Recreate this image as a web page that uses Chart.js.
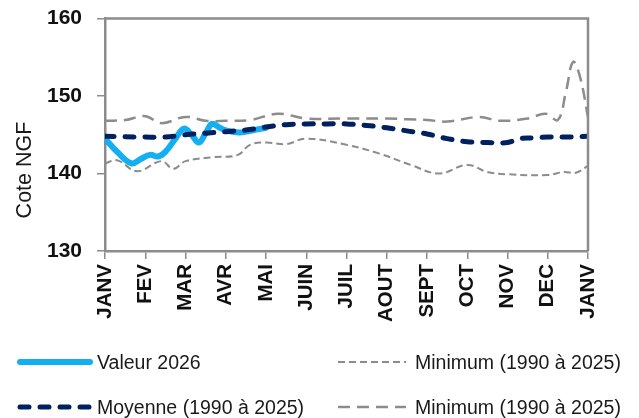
<!DOCTYPE html>
<html><head><meta charset="utf-8">
<script src="https://cdn.jsdelivr.net/npm/chart.js@4/dist/chart.umd.min.js"></script>
<style>
html,body{margin:0;padding:0;background:#fff;}
#wrap{position:relative;width:639px;height:418px;overflow:hidden;}
#c{position:absolute;left:0;top:0;}
.ytitle{position:absolute;left:24px;top:170px;transform:translate(-50%,-50%) rotate(-90deg);font:21.5px "Liberation Sans",Arial,sans-serif;color:#1a1a1a;white-space:nowrap;}
.lg{position:absolute;font:19.5px "Liberation Sans",Arial,sans-serif;color:#1a1a1a;white-space:nowrap;transform:translateY(-50%);}
svg.ls{position:absolute;overflow:visible;}
</style></head>
<body><div id="wrap"><canvas id="c" width="639" height="418"></canvas>
<div class="ytitle">Cote NGF</div>
<svg class="ls" style="left:0;top:0" width="639" height="418">
<line x1="20" y1="362" x2="90" y2="362" stroke="#13aff0" stroke-width="6" stroke-linecap="round"/>
<line x1="20" y1="407" x2="92" y2="407" stroke="#002060" stroke-width="5" stroke-linecap="round" stroke-dasharray="9 11"/>
<line x1="338" y1="362" x2="406" y2="362" stroke="#8c8c8c" stroke-width="2" stroke-dasharray="7 4"/>
<line x1="338" y1="407" x2="406" y2="407" stroke="#8c8c8c" stroke-width="2.5" stroke-dasharray="12 7"/>
</svg>
<div class="lg" style="left:97px;top:362px">Valeur 2026</div>
<div class="lg" style="left:97px;top:407px">Moyenne (1990 à 2025)</div>
<div class="lg" style="left:415px;top:362px">Minimum (1990 à 2025)</div>
<div class="lg" style="left:415px;top:407px">Minimum (1990 à 2025)</div>
</div>
<script>
const monthLabels = ["JANV","FEV","MAR","AVR","MAI","JUIN","JUIL","AOUT","SEPT","OCT","NOV","DEC","JANV"];
const yTicks = [130, 140, 150, 160];

const valeurMonths = [0, 0.3, 0.66, 0.9, 1.12, 1.32, 1.5, 1.75, 1.96, 2.15, 2.33, 2.5, 2.66, 2.85, 3.05, 3.35, 3.7, 4.0];
const valeurLevels = [144.5, 142.8, 141.3, 141.9, 142.4, 142.2, 142.8, 144.5, 145.8, 145.0, 144.0, 145.2, 146.4, 145.9, 145.5, 145.3, 145.6, 145.9];

const moyenneMonths = [0, 1, 1.5, 2, 2.5, 3, 3.5, 4, 4.5, 5, 5.5, 6, 6.5, 7, 7.5, 8, 8.5, 9, 9.5, 10, 10.3, 10.6, 11, 11.5, 12];
const moyenneLevels = [144.8, 144.7, 144.7, 145.0, 145.2, 145.4, 145.6, 146.0, 146.3, 146.4, 146.4, 146.4, 146.2, 145.9, 145.5, 145.1, 144.5, 144.1, 144.0, 144.0, 144.5, 144.6, 144.7, 144.7, 144.8];

const minBasMonths = [0, 0.3, 0.8, 1.4, 1.7, 2.0, 2.7, 3.3, 3.6, 4.0, 4.5, 5.0, 6.0, 6.8, 7.6, 8.3, 9.0, 9.5, 10.0, 11.0, 11.4, 11.7, 12];
const minBasLevels = [141.3, 141.7, 140.3, 141.6, 140.6, 141.6, 142.1, 142.4, 143.7, 144.0, 143.8, 144.5, 143.7, 142.6, 141.1, 140.0, 141.1, 140.2, 139.9, 139.8, 140.2, 140.1, 141.0];

const minHautMonths = [0, 0.5, 1.0, 1.4, 2.0, 2.5, 3.0, 3.6, 4.3, 5.0, 6.0, 7.0, 7.5, 8.0, 8.5, 9.3, 9.8, 10.5, 10.95, 11.25, 11.45, 11.63, 11.8, 12];
const minHautLevels = [146.8, 146.9, 147.4, 146.5, 147.3, 146.8, 146.8, 146.9, 147.7, 147.1, 147.1, 147.1, 147.0, 146.9, 146.7, 147.3, 146.8, 147.1, 147.7, 146.9, 150.5, 154.4, 152.5, 147.3];

const pts = (xs, ys) => xs.map((x, i) => ({x: x, y: ys[i]}));

const frame = {
  id: 'frame',
  afterDatasetsDraw(chart) {
    const {ctx, chartArea: a} = chart;
    ctx.save();
    ctx.strokeStyle = '#8c8c8c';
    ctx.lineWidth = 2.5;
    ctx.beginPath();
    ctx.moveTo(a.left, a.top);
    ctx.lineTo(a.right, a.top);
    ctx.lineTo(a.right, a.bottom);
    ctx.stroke();
    ctx.restore();
  }
};

new Chart(document.getElementById('c'), {
  type: 'line',
  data: {
    datasets: [
      {label: 'Moyenne (1990 à 2025)', data: pts(moyenneMonths, moyenneLevels), borderColor: '#002060', borderWidth: 5, borderDash: [9, 11], borderCapStyle: 'round', order: 0},
      {label: 'Valeur 2026', data: pts(valeurMonths, valeurLevels), borderColor: '#13aff0', borderWidth: 6, borderCapStyle: 'round', order: 1},
      {label: 'Minimum (1990 à 2025)', data: pts(minBasMonths, minBasLevels), borderColor: '#8c8c8c', borderWidth: 2, borderDash: [7, 4], order: 2},
      {label: 'Minimum (1990 à 2025)', data: pts(minHautMonths, minHautLevels), borderColor: '#8c8c8c', borderWidth: 2.5, borderDash: [12, 7], order: 3}
    ]
  },
  options: {
    responsive: false,
    animation: false,
    elements: {point: {radius: 0}, line: {tension: 0.4, fill: false}},
    layout: {padding: {left: 0, top: 18.5, right: 51, bottom: 0}},
    plugins: {legend: {display: false}, tooltip: {enabled: false}},
    scales: {
      x: {
        type: 'linear', min: 0, max: 12,
        afterFit: s => { s.height = 167; },
        afterBuildTicks: s => { s.ticks = monthLabels.map((_, i) => ({value: i})); },
        ticks: {stepSize: 1, autoSkip: false, minRotation: 90, maxRotation: 90, padding: 5,
          color: '#111', font: {family: '"Liberation Sans", Arial, sans-serif', size: 20.5, weight: 'bold'},
          callback: v => monthLabels[v]},
        grid: {drawOnChartArea: false, drawTicks: true, tickLength: 8, color: '#8c8c8c', lineWidth: 1.5},
        border: {color: '#8c8c8c', width: 2.5}
      },
      y: {
        min: 130, max: 160,
        afterFit: s => { s.width = 105; s.paddingTop = 8; s.paddingBottom = 8; },
        afterBuildTicks: s => { s.ticks = yTicks.map(v => ({value: v})); },
        ticks: {padding: 15, color: '#111', font: {family: '"Liberation Sans", Arial, sans-serif', size: 21, weight: 'bold'}},
        grid: {drawOnChartArea: false, drawTicks: true, tickLength: 8, color: '#8c8c8c', lineWidth: 1.5},
        border: {color: '#8c8c8c', width: 2.5}
      }
    }
  },
  plugins: [frame]
});
</script></body></html>
